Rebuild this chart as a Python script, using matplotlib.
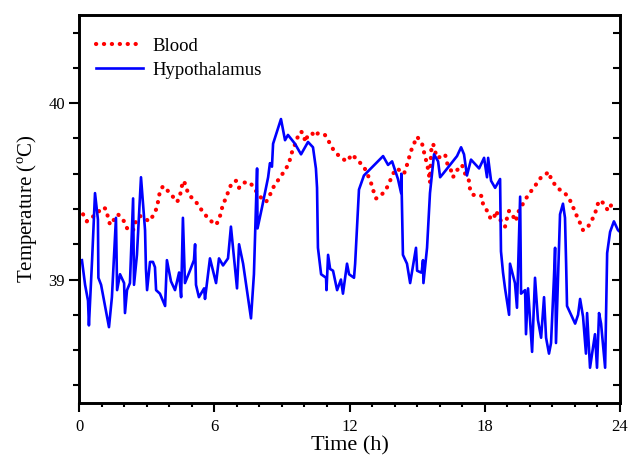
import matplotlib
matplotlib.use("Agg")
import matplotlib.pyplot as plt
from matplotlib.ticker import MultipleLocator

plt.rcParams['font.family'] = ['Liberation Serif', 'DejaVu Serif']
plt.rcParams['mathtext.fontset'] = 'custom'
plt.rcParams['mathtext.rm'] = 'Liberation Serif'

blood_t = [0.18, 0.35, 0.75, 1.06, 1.20, 1.29, 1.38, 1.73, 2.00, 2.17, 2.40, 2.48, 2.71, 2.88,
           3.11, 3.33, 3.46, 3.59, 3.73, 4.04, 4.35, 4.48, 4.53, 4.66, 4.75, 4.88, 5.19, 5.46,
           5.77, 6.08, 6.21, 6.30, 6.39, 6.52, 6.65, 6.79, 6.97, 7.10, 7.32, 7.59, 7.81, 8.03,
           8.30, 8.47, 8.65, 8.92, 9.14, 9.32, 9.41, 9.54, 9.67, 9.85, 9.98, 10.03, 10.16, 10.34,
           10.47, 10.60, 10.91, 11.14, 11.31, 11.62, 11.89, 12.11, 12.33, 12.64, 12.82, 12.95,
           13.04, 13.18, 13.35, 13.62, 13.80, 13.93, 14.11, 14.42, 14.55, 14.64, 14.73, 14.86,
           15.00, 15.22, 15.31, 15.39, 15.48, 15.53, 15.57, 15.62, 15.71, 15.79, 15.88, 15.93,
           16.24, 16.33, 16.50, 16.59, 16.77, 16.99, 17.13, 17.30, 17.35, 17.48, 17.79, 17.88,
           17.92, 18.10, 18.28, 18.41, 18.50, 18.68, 18.90, 18.99, 19.08, 19.25, 19.39, 19.43,
           19.61, 19.83, 20.05, 20.28, 20.50, 20.85, 20.94, 21.21, 21.56, 21.78, 21.92, 22.05,
           22.23, 22.36, 22.54, 22.72, 22.89, 22.98, 23.11, 23.29, 23.47, 23.73]
blood_v = [39.37, 39.33, 39.37, 39.41, 39.40, 39.35, 39.31, 39.37, 39.33, 39.28, 39.28, 39.32,
           39.36, 39.35, 39.33, 39.37, 39.41, 39.50, 39.53, 39.49, 39.44, 39.47, 39.52, 39.56,
           39.52, 39.48, 39.44, 39.39, 39.34, 39.31, 39.34, 39.38, 39.43, 39.46, 39.51, 39.55,
           39.56, 39.52, 39.55, 39.55, 39.51, 39.47, 39.44, 39.48, 39.53, 39.58, 39.62, 39.66,
           39.71, 39.75, 39.80, 39.84, 39.82, 39.78, 39.82, 39.83, 39.81, 39.83, 39.82, 39.77,
           39.73, 39.69, 39.67, 39.71, 39.68, 39.64, 39.59, 39.55, 39.51, 39.46, 39.47, 39.51,
           39.56, 39.60, 39.63, 39.60, 39.65, 39.69, 39.73, 39.77, 39.81, 39.77, 39.72, 39.68,
           39.63, 39.59, 39.55, 39.73, 39.77, 39.73, 39.69, 39.69, 39.71, 39.66, 39.62, 39.58,
           39.62, 39.65, 39.60, 39.56, 39.51, 39.48, 39.48, 39.47, 39.43, 39.39, 39.34, 39.35,
           39.39, 39.34, 39.30, 39.35, 39.39, 39.36, 39.33, 39.37, 39.41, 39.46, 39.50, 39.54,
           39.58, 39.61, 39.57, 39.52, 39.49, 39.45, 39.41, 39.37, 39.32, 39.28, 39.29, 39.33,
           39.37, 39.42, 39.45, 39.43, 39.39, 39.45]

hypo_t = [0.13, 0.27, 0.40, 0.44, 0.58, 0.71, 0.84, 0.86, 0.98, 1.11, 1.33, 1.46, 1.64, 1.69,
          1.82, 2.00, 2.04, 2.13, 2.26, 2.40, 2.44, 2.57, 2.75, 2.93, 2.97, 3.02, 3.15, 3.28,
          3.37, 3.42, 3.59, 3.82, 3.90, 4.08, 4.26, 4.44, 4.53, 4.61, 4.70, 4.92, 5.10, 5.15,
          5.19, 5.32, 5.55, 5.59, 5.81, 6.08, 6.21, 6.39, 6.61, 6.74, 7.01, 7.10, 7.28, 7.45,
          7.63, 7.76, 7.90, 7.92, 8.12, 8.39, 8.47, 8.56, 8.61, 8.96, 9.14, 9.27, 9.58, 9.85,
          10.16, 10.38, 10.51, 10.56, 10.60, 10.74, 10.96, 10.98, 11.05, 11.14, 11.27, 11.45,
          11.62, 11.71, 11.89, 11.98, 12.20, 12.25, 12.42, 12.64, 13.49, 13.71, 13.89, 14.15,
          14.29, 14.30, 14.37, 14.55, 14.69, 14.82, 14.95, 15.00, 15.17, 15.20, 15.26, 15.28,
          15.44, 15.57, 15.75, 15.93, 16.02, 16.15, 16.77, 16.95, 17.08, 17.21, 17.39, 17.75,
          17.97, 18.10, 18.15, 18.28, 18.46, 18.68, 18.72, 18.81, 18.90, 19.08, 19.12, 19.34,
          19.43, 19.57, 19.61, 19.79, 19.83, 19.92, 20.10, 20.23, 20.36, 20.50, 20.63, 20.72,
          20.85, 20.94, 21.07, 21.12, 21.16, 21.34, 21.47, 21.56, 21.61, 21.65, 22.01, 22.14,
          22.23, 22.36, 22.49, 22.54, 22.67, 22.89, 22.98, 23.07, 23.16, 23.34, 23.43, 23.56,
          23.73, 23.91, 24.00]
hypo_v = [39.11, 38.97, 38.88, 38.74, 39.11, 39.49, 39.34, 39.01, 38.97, 38.88, 38.73, 38.90,
          39.35, 38.94, 39.03, 38.98, 38.81, 38.94, 38.98, 39.46, 38.97, 39.14, 39.58, 39.28,
          39.06, 38.94, 39.10, 39.10, 39.07, 38.94, 38.92, 38.85, 39.11, 38.99, 38.94, 39.04,
          38.90, 39.35, 38.98, 39.05, 39.11, 39.20, 38.97, 38.90, 38.95, 38.89, 39.12, 38.98,
          39.12, 39.08, 39.12, 39.30, 38.95, 39.20, 39.09, 38.94, 38.78, 39.03, 39.63, 39.29,
          39.41, 39.58, 39.66, 39.64, 39.77, 39.91, 39.79, 39.82, 39.77, 39.71, 39.78, 39.75,
          39.63, 39.52, 39.18, 39.03, 39.01, 38.94, 39.14, 39.06, 39.05, 38.94, 39.00, 38.92,
          39.09, 39.03, 39.01, 39.09, 39.51, 39.59, 39.70, 39.65, 39.67, 39.57, 39.49, 39.60,
          39.14, 39.09, 38.98, 39.08, 39.18, 39.05, 39.04, 39.04, 39.11, 38.98, 39.18, 39.49,
          39.71, 39.67, 39.58, 39.60, 39.70, 39.75, 39.71, 39.59, 39.68, 39.63, 39.69, 39.58,
          39.69, 39.56, 39.52, 39.57, 39.16, 39.04, 38.95, 38.80, 39.09, 38.98, 38.84, 39.47,
          38.92, 38.94, 38.69, 38.95, 38.59, 39.01, 38.77, 38.67, 38.90, 38.67, 38.58, 38.64,
          39.01, 39.18, 38.64, 39.37, 39.43, 39.35, 39.09, 38.85, 38.75, 38.80, 38.89, 38.79,
          38.58, 38.81, 38.50, 38.69, 38.50, 38.81, 38.75, 38.50, 39.15, 39.27, 39.33, 39.28,
          39.27]

x_ticks = [0, 6, 12, 18, 24]
y_ticks = [39, 40]

fig = plt.figure(figsize=(6.28, 4.62), dpi=100)
ax = fig.add_axes([79/628, 1 - 403/462, (620 - 79)/628, (403 - 15)/462])

ax.plot(blood_t, blood_v, color='#ff0000', linewidth=3.0, dashes=(0.05, 1.85),
        dash_capstyle='round', label='Blood')
ax.plot(hypo_t, hypo_v, color='#0000ff', linewidth=1.9, label='Hypothalamus')

ax.set_xlim(0, 24)
ax.set_ylim(38.3, 40.5)
ax.set_xticks(x_ticks)
ax.set_yticks(y_ticks)
ax.xaxis.set_minor_locator(MultipleLocator(1))
ax.yaxis.set_minor_locator(MultipleLocator(0.2))

ax.tick_params(axis='x', which='both', direction='out', top=False, labelsize=12, width=1.5)
ax.tick_params(axis='x', which='major', length=6.5, pad=5)
ax.tick_params(axis='x', which='minor', length=3)
ax.tick_params(axis='y', which='both', direction='out', left=True, right=False,
               labelsize=12, width=1.5)
ax.tick_params(axis='y', which='major', length=7, pad=3)
ax.tick_params(axis='y', which='minor', length=4.5)

# inward ticks on right spine
ax2 = ax.twinx()
ax2.set_ylim(ax.get_ylim())
ax2.set_yticks(y_ticks)
ax2.yaxis.set_minor_locator(MultipleLocator(0.2))
ax2.tick_params(axis='y', which='both', direction='in', labelright=False, width=1.5)
ax2.tick_params(axis='y', which='major', length=6)
ax2.tick_params(axis='y', which='minor', length=5)

for a in (ax, ax2):
    for s in a.spines.values():
        s.set_linewidth(1.9)

ax.set_xlabel('Time (h)', fontsize=16, labelpad=1)
ax.set_ylabel('Temperature ($^{\\rm o}$C)', fontsize=15, labelpad=6)

leg = ax.legend(loc='upper left', frameon=False, fontsize=13.5, handlelength=2.5,
                bbox_to_anchor=(0.0, 0.985), labelspacing=0.35, handletextpad=0.5)

fig.savefig('out.png', dpi=100)
